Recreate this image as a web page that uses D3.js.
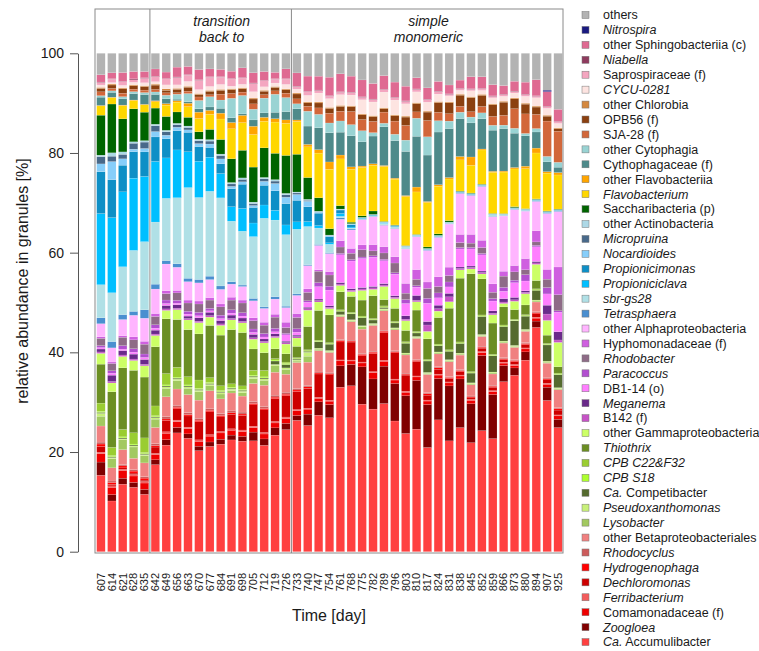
<!DOCTYPE html>
<html lang="en">
<head>
	<meta charset="UTF-8">
	<title>Granule community</title>
	<script src="https://d3js.org/d3.v7.min.js"></script>
	<style>
		body{
			margin: 0;
			background: #fff;
		}
		svg{
			display: block;
			font-family: "Liberation Sans", Arial, Helvetica, sans-serif;
		}
	</style>
</head>
<body>
	<div id="chart"></div>
	<script>
		var days = ["607","614","621","628","635","642","649","656","663","670","677","684","691","698","705","712","719","726",
			"733","740","747","754","761","768","775","782","789","796","803","810","817","824","831","838","845","852","859","866","873","880","894","907","925"];

		// phases: label lines, first and last day of the phase
		var phaseLabels = [["transition","back to"],["simple","monomeric"]];
		var phaseStart = ["642","733"];
		var phaseEnd = ["726","925"];

		// taxa, bottom of the stack first
		var taxa = ["Ca. Accumulibacter","Zoogloea","Comamonadaceae (f)","Ferribacterium","Dechloromonas","Hydrogenophaga","Rhodocyclus",
			"other Betaproteobacteriales","Lysobacter","Pseudoxanthomonas","Ca. Competibacter","CPB S18","CPB C22&F32","Thiothrix",
			"other Gammaproteobacteria","B142 (f)","Meganema","DB1-14 (o)","Paracoccus","Rhodobacter","Hyphomonadaceae (f)",
			"other Alphaproteobacteria","Tetrasphaera","sbr-gs28","Propioniciclava","Propionicimonas","Nocardioides","Micropruina",
			"other Actinobacteria","Saccharibacteria (p)","Flavobacterium","other Flavobacteriia","Cythophagaceae (f)","other Cytophagia",
			"SJA-28 (f)","OPB56 (f)","other Chlorobia","CYCU-0281","Saprospiraceae (f)","Niabella","other Sphingobacteriia (c)","Nitrospira","others"];
		var colors = ["#ff4040","#800000","#ee0000","#f25c5c","#cd0000","#ff0000","#cd5c5c",
			"#f08080","#a2c960","#c8f07a","#556b2f","#adff2f","#9acd32","#6b8e23",
			"#ccff66","#c653c6","#6a2a8a","#ff7fff","#b24fd0","#8e6b87","#cf5fe0",
			"#ffb5ff","#4a8fd0","#b0e0e6","#00bfff","#0e8fc6","#87cefa","#48698a",
			"#add8e6","#006400","#ffd700","#ffa500","#4e8a8a","#99d3d3",
			"#d2673a","#8b4010","#d4883f","#fde4e1","#f4a6c0","#8e3b5e","#df6a92","#1a1a80","#b3b3b3"];
		var italicTaxa = ["Zoogloea","Ferribacterium","Dechloromonas","Hydrogenophaga","Rhodocyclus","Lysobacter","Pseudoxanthomonas",
			"CPB S18","CPB C22&F32","Thiothrix","Meganema","Paracoccus","Rhodobacter","Tetrasphaera","sbr-gs28","Propioniciclava",
			"Propionicimonas","Nocardioides","Micropruina","Flavobacterium","CYCU-0281","Niabella","Nitrospira"];

		// relative abundance [%] per sample
		var accumulibacter = [15.7,10.4,13.7,13.1,11.7, 17.8,21.6,24.1,23.4,20.6,21.6,22.1,23.1,22.8,22.8,21.6,23.9,25.1,
			26.8,25.5,27.5,27.5,33.8,34.2,30.5,29.3,30.5,26.8,24.1,25.1,21.1,26.8,22.4,25.5,22.4,24.8,23.1,34.8,36.0,39.2,45.9,30.8,25.5];
		var zoogloea = [2.7,1.3,1.2,1.0,1.0, 1.0,1.1,1.1,0.9,0.9,0.9,1.0,1.0,1.0,1.8,1.3,1.5,1.3,
			1.0,2.3,2.7,2.7,4.4,4.4,7.7,6.2,7.7,7.7,7.7,10.0,8.7,8.4,11.1,10.0,8.0,15.4,9.0,3.3,1.5,1.7,1.3,2.7,1.7];
		var comamonadaceae = [1.7,1.5,1.5,1.3,1.3, 1.0,1.3,1.2,1.1,1.0,1.2,1.3,1.0,1.0,0.9,1.0,1.0,1.0,
			1.0,1.0,0.7,0.7,1.0,0.7,0.8,1.3,1.0,0.7,0.7,0.7,0.7,0.7,0.6,0.6,0.7,0.6,0.6,0.5,0.5,0.6,0.6,0.6,0.7];
		var ferribacterium = [0.3,0.3,0.3,0.3,0.3, 0.3,0.3,0.3,0.3,0.3,0.3,0.3,0.3,0.3,0.3,0.3,0.3,0.3,
			0.2,0.2,0.2,0.2,0.2,0.2,0.2,0.2,0.2,0.2,0.2,0.2,0.2,0.2,0.2,0.2,0.2,0.2,0.2,0.2,0.2,0.2,0.2,0.2,0.2];
		var dechloromonas = [1.2,0.3,0.3,0.3,0.3, 1.3,2.3,2.3,2.3,3.7,4.7,3.0,3.0,3.0,4.4,4.6,4.7,4.4,
			3.7,4.0,4.7,5.2,3.7,3.7,1.3,3.7,5.7,5.4,3.3,3.0,1.0,1.0,0.7,0.7,0.3,0.7,0.7,0.5,0.6,0.7,0.7,0.7,1.0];
		var hydrogenophaga = [0.5,0.4,0.4,0.4,0.4, 0.3,0.3,0.3,0.3,0.3,0.3,0.3,0.3,0.3,0.3,0.3,0.3,0.3,
			0.3,0.3,0.2,0.2,0.3,0.2,0.3,0.3,0.3,0.2,0.2,0.2,0.3,0.3,0.2,0.2,0.2,0.2,0.2,0.2,0.2,0.2,0.2,0.2,0.3];
		var rhodocyclus = [0.4,0.3,0.3,0.3,0.3, 0.4,0.5,0.4,0.4,0.4,0.3,0.4,0.4,0.4,0.4,0.4,0.4,0.4,
			0.3,0.3,0.2,0.2,0.2,0.2,0.2,0.2,0.2,0.2,0.2,0.2,0.2,0.2,0.2,0.2,0.2,0.2,0.2,0.2,0.2,0.2,0.2,0.2,0.2];
		var otherBeta = [3.3,2.7,3.0,2.3,2.8, 3.3,4.0,3.3,3.7,3.7,3.7,3.0,3.7,3.3,3.7,4.3,4.7,3.7,
			5.3,4.7,4.3,4.2,4.7,3.8,5.0,5.3,4.0,4.3,3.7,4.3,3.7,2.6,3.0,3.0,2.3,2.0,2.3,3.0,2.5,2.3,2.0,3.0,3.7];
		var lysobacter = [2.0,1.9,2.0,2.3,1.5, 1.7,1.7,1.7,1.3,1.7,1.0,1.0,0.5,0.7,1.0,1.0,1.3,1.0,
			0.3,1.2,0.3,0.2,0.2,0.2,0.5,0.2,0.2,0.2,0.2,0.2,0.2,0.2,0.2,0.2,0.2,0.2,0.2,0.2,0.2,0.2,0.2,0.2,0.2];
		var pseudoxanthomonas = [0.6,0.2,0.2,0.2,0.2, 0.3,0.3,0.3,0.3,0.3,0.3,0.3,0.3,0.3,0.3,0.3,0.3,0.3,
			0.2,0.8,0.2,0.2,0.2,0.2,0.2,0.2,0.2,0.2,0.2,0.2,0.2,0.2,0.2,0.2,0.2,0.2,0.2,0.2,0.2,0.2,0.2,0.2,0.2];
		var competibacter = [0.2,0.2,0.2,0.2,0.2, 0.2,0.2,0.2,0.2,0.2,0.2,0.2,0.2,0.2,0.2,0.2,0.7,0.7,
			0.2,0.2,1.3,1.3,0.7,1.2,1.7,0.7,0.3,1.0,2.0,0.7,2.3,1.3,1.7,2.0,2.0,3.7,3.3,3.0,5.0,2.7,2.0,3.3,2.7];
		var cpbS18 = [0.2,0.2,0.2,0.2,0.2, 0.2,0.2,0.2,0.2,0.2,0.2,0.2,0.2,0.2,0.2,0.2,0.2,0.2,
			0.1,0.1,0.1,0.1,0.1,0.1,0.1,0.1,0.1,0.1,0.1,0.1,0.1,0.1,0.1,0.1,0.1,0.1,0.1,0.1,0.1,0.1,0.1,0.1,0.1];
		var cpbC22 = [1.7,1.7,1.5,2.3,3.0, 2.0,2.3,2.0,1.7,1.7,1.0,1.0,0.7,0.7,1.0,1.3,0.3,0.3,
			0.2,0.2,0.2,0.2,0.2,0.2,0.2,0.2,0.2,0.2,0.2,0.2,0.2,0.2,0.2,0.2,0.2,0.2,0.2,0.2,0.2,0.2,0.2,0.2,0.2];
		var thiothrix = [8.0,11.4,12.5,12.7,12.4, 12.1,11.1,9.7,9.7,9.4,10.7,10.4,11.2,11.0,4.4,3.6,2.0,1.7,
			2.3,4.7,6.0,5.7,3.7,3.3,3.3,4.7,1.3,2.7,2.3,4.4,4.2,5.4,8.4,13.1,20.1,7.4,6.4,3.7,2.0,2.0,1.7,1.7,1.3];
		var otherGamma = [2.2,1.8,2.3,2.0,2.3, 2.3,1.7,2.0,2.0,2.3,1.7,2.0,2.0,2.0,2.0,2.0,2.3,2.0,
			1.7,3.3,1.7,1.3,1.3,1.0,2.0,1.3,2.7,2.0,2.0,1.7,1.5,1.3,1.3,1.7,1.0,1.0,1.7,0.7,1.7,2.3,3.3,3.0,5.0];
		var b142 = [0.3,0.3,0.3,0.3,0.3, 0.3,0.3,0.3,0.3,0.3,0.3,0.3,0.3,0.3,0.3,0.3,0.3,0.3,
			0.3,0.3,0.3,0.3,0.3,0.3,0.3,0.3,0.3,0.3,0.3,0.3,1.3,0.5,1.0,0.3,0.3,0.3,0.3,0.3,0.3,0.3,0.3,1.3,0.5];
		var meganema = [0.6,1.3,0.9,1.0,1.0, 0.8,0.7,0.7,0.5,0.7,0.7,0.7,0.7,0.7,0.7,0.5,0.5,0.3,
			0.3,0.3,0.3,0.3,0.3,0.3,0.3,0.3,0.3,0.3,0.7,1.0,0.7,0.7,0.7,0.3,0.3,0.3,0.5,0.7,0.5,0.3,0.3,1.8,1.7];
		var db114 = [0.3,0.4,0.3,0.4,0.4, 0.4,0.4,0.3,0.4,0.4,0.3,0.4,0.4,0.4,0.4,0.4,0.4,1.3,
			0.6,1.0,2.5,3.2,5.7,5.7,6.0,6.0,4.7,4.4,2.5,1.7,3.7,1.5,1.3,3.7,3.5,3.3,2.0,1.5,3.0,2.0,3.0,2.3,4.0];
		var paracoccus = [0.4,0.5,0.7,0.7,0.7, 0.7,0.7,0.6,0.6,0.7,0.5,0.7,0.7,0.7,0.7,0.7,0.7,0.3,
			0.7,0.3,0.8,0.8,0.3,0.3,0.3,0.3,0.3,0.3,0.8,0.3,1.0,1.0,1.0,0.3,0.3,0.3,0.5,0.8,0.5,1.3,0.3,1.3,0.3];
		var rhodobacter = [1.5,1.5,1.7,1.8,2.0, 1.7,1.3,1.5,1.7,1.7,1.7,1.7,2.0,2.0,1.7,1.7,2.3,1.2,
			2.3,1.7,2.3,2.3,1.3,1.3,1.5,1.0,1.3,2.0,1.3,1.3,2.0,1.3,1.3,1.0,0.9,1.2,1.3,2.3,1.7,1.0,0.7,1.7,3.3];
		var hyphomonadaceae = [0.3,0.3,0.3,0.6,0.6, 0.6,0.6,0.5,0.6,0.6,0.5,0.6,0.6,0.6,0.6,0.6,0.6,1.1,
			0.8,0.7,0.3,0.7,1.3,1.0,1.0,1.3,1.3,1.3,2.0,2.0,1.3,2.0,1.7,1.7,1.8,1.5,1.7,1.0,1.3,2.3,2.3,2.0,5.7];
		var otherAlpha = [2.7,2.9,3.3,4.4,4.7, 5.0,5.4,4.7,3.8,3.7,3.7,3.0,2.7,2.8,3.5,2.8,3.1,3.0,
			3.7,4.7,4.9,3.7,4.4,3.8,5.2,5.7,4.4,5.7,7.0,6.7,6.4,8.0,8.7,8.4,8.0,11.0,13.7,11.3,11.4,9.7,6.0,11.4,11.4];
		var tetrasphaera = [1.2,1.3,1.0,0.8,1.7, 1.0,0.7,0.7,0.7,0.7,0.7,0.7,0.5,0.3,0.5,0.3,0.5,0.3,
			0.3,0.2,0.2,0.2,0.3,0.2,0.1,0.1,0.1,0.1,0.1,0.1,0.1,0.1,0.1,0.1,0.1,0.1,0.1,0.1,0.1,0.1,0.1,0.1,0.1];
		var sbrgs28 = [6.8,10.0,9.7,12.4,13.9, 12.7,12.6,13.4,18.7,16.7,17.4,18.1,12.5,11.1,12.7,18.0,15.7,14.7,
			13.2,7.7,3.3,1.7,0.3,0.2,0.1,0.1,0.3,0.3,0.3,0.1,0.1,0.1,0.1,0.1,0.1,0.1,0.3,0.1,0.1,0.1,0.1,0.1,0.1];
		var propioniciclava = [14.6,15.4,15.2,14.7,13.3, 12.4,8.2,9.7,7.4,7.4,7.0,5.0,3.0,4.7,2.8,2.7,2.0,2.0,
			1.5,1.0,0.5,0.3,0.6,0.2,0.1,0.1,0.1,0.1,0,0,0,0,0,0,0,0,0,0,0,0,0,0,0];
		var propionicimonas = [8.6,7.8,5.4,5.4,5.0, 5.0,3.9,3.9,4.0,3.0,2.0,2.0,3.7,5.0,3.2,4.0,4.0,4.4,
			4.4,3.0,2.5,1.3,0.7,0.5,0.1,0.1,0.1,0.1,0.1,0.1,0.1,0.1,0.1,0.1,0.1,0.1,0.1,0.1,0.1,0.1,0.1,0.1,0.1];
		var nocardioides = [1.6,3.7,1.3,0.5,0.7, 1.1,0.7,0.7,0.5,0.6,0.7,1.0,0.5,0.5,0.4,0.8,1.5,1.3,
			1.2,1.1,0.2,0.1,0.1,0.1,0,0,0,0,0,0,0,0,0,0,0,0,0,0,0,0,0,0,0];
		var micropruina = [1.5,1.1,0.9,1.2,1.3, 1.2,0.7,0.5,0.5,0.6,0.6,0.7,0.5,0.5,0.4,0.5,0.5,0.5,
			0.3,0.2,0.1,0.1,0,0,0,0,0,0,0,0,0,0,0,0,0,0,0,0,0,0,0,0,0];
		var otherActino = [0.3,0.7,0.5,0.3,0.3, 0.3,0.3,0.3,0.3,0.3,0.3,0.3,0.3,0.3,0.3,0.3,0.3,0.3,
			0.2,0.2,0.1,0.1,0.1,0.1,0.1,0.1,0.1,0.1,0.1,0.1,0.1,0.1,0.1,0.1,0.1,0.1,0.1,0.1,0.1,0.1,0.1,0.1,0.1];
		var saccharibacteria = [8.2,10.0,6.7,6.7,5.8, 3.3,2.8,2.3,1.8,1.5,2.1,3.0,4.9,5.7,7.2,6.0,5.4,7.8,
			7.7,4.4,2.7,1.3,0.7,0.3,0.3,0.7,0.1,0.1,0.1,0.1,0.3,0.3,0.3,0.1,0.1,0.1,0.1,0.1,0.2,0.1,0.1,0.1,0.1];
		var flavobacterium = [1.9,1.3,2.7,1.7,1.5, 1.3,2.3,2.0,2.2,2.7,3.1,4.2,6.2,5.7,6.7,5.4,6.4,6.6,
			6.7,6.2,9.0,12.2,9.6,10.9,10.0,9.4,11.3,9.4,10.0,8.7,9.0,9.7,8.4,6.4,5.7,7.0,8.4,8.5,7.7,8.2,9.4,7.7,7.0];
		var otherFlavo = [0.1,0.1,0.1,0.1,0.1, 0.2,0.3,0.3,0.7,1.3,0.8,1.2,1.3,1.5,1.7,0.8,0.7,0.7,
			0.3,0.5,0.7,1.5,0.8,0.5,0.3,0.3,0.2,0.2,0.2,1.0,0.2,0.3,0.3,0.7,1.7,0.2,0.2,0.2,0.3,0.5,1.0,0.3,0.5];
		var cythophagaceae = [1.7,1.0,1.3,1.3,2.0, 1.3,1.0,0.3,0.3,0.7,0.7,1.0,1.0,0.3,1.3,0.9,1.3,1.7,
			2.3,3.7,4.4,6.0,4.7,6.4,5.0,5.7,8.0,7.7,9.0,10.4,9.4,10.7,9.9,7.8,7.0,6.2,8.4,8.7,7.0,6.2,3.3,2.0,1.1];
		var otherCyto = [0.3,0.3,0.4,0.4,0.4, 0.5,0.7,1.0,1.7,1.7,2.1,1.7,4.0,3.8,2.2,3.0,3.7,2.9,
			1.0,3.0,2.7,2.0,2.3,2.3,2.3,0.7,0.7,1.3,2.3,3.7,3.7,2.3,1.5,1.3,1.2,1.2,1.0,0.7,1.0,0.5,0.7,1.1,1.0];
		var sja28 = [0.8,0.5,0.7,0.5,0.5, 0.5,0.5,0.3,0.5,0.7,0.4,1.2,1.0,0.7,1.1,0.7,0.7,0.9,
			1.0,1.0,1.3,2.0,2.0,2.7,2.3,2.3,2.3,2.7,3.0,1.3,3.3,1.7,1.5,1.2,1.1,1.3,1.8,2.0,4.0,4.0,2.9,7.2,6.4];
		var opb56 = [0.7,0.7,0.9,0.7,0.7, 0.9,0.5,0.7,0.8,0.5,0.7,0.8,0.8,0.7,1.0,0.7,0.7,0.7,
			1.0,0.7,1.0,1.0,1.0,1.0,1.0,1.0,0.7,1.1,1.7,1.7,1.7,2.0,2.2,2.3,2.9,2.3,2.4,2.7,2.0,2.0,1.5,1.0,0.5];
		var otherChlorobia = [0.2,0.2,0.2,0.2,0.2, 0.2,0.3,0.2,0.2,0.2,0.2,0.2,0.2,0.2,0.2,0.2,0.2,0.2,
			0.2,0.2,0.2,0.2,0.2,0.2,0.2,0.2,0.2,0.2,0.2,0.2,0.2,0.2,0.2,0.2,0.2,0.2,0.2,0.2,0.2,0.2,0.2,0.2,0.2];
		var cycu0281 = [0.5,0.3,0.5,0.5,0.6, 0.5,0.8,0.7,1.0,0.8,0.8,1.0,0.5,0.7,1.3,0.7,0.7,0.9,
			0.8,1.3,1.8,1.8,2.2,2.2,2.9,2.8,3.2,3.0,2.5,2.2,1.8,1.5,1.2,0.8,1.2,0.8,1.2,1.0,1.0,1.4,1.7,1.4,0.9];
		var saprospiraceae = [0.5,0.7,0.7,0.5,0.9, 1.0,1.2,1.5,1.3,1.9,1.9,1.5,1.5,1.3,1.7,1.2,0.8,1.1,
			0.5,0.7,0.5,0.5,0.5,0.5,0.5,0.5,0.5,0.5,0.5,0.5,0.5,0.5,0.3,0.3,0.3,0.3,0.3,0.3,0.3,0.3,0.3,0.3,0.3];
		var niabella = [0.1,0.1,0.1,0.2,0.1, 0.1,0.1,0.1,0.1,0.1,0.1,0.1,0.1,0.1,0.1,0.1,0.1,0.1,
			0.1,0.1,0.1,0.1,0.1,0.1,0.1,0.1,0.1,0.1,0.1,0.1,0.1,0.1,0.1,0.1,0.1,0.1,0.1,0.1,0.1,0.1,0.1,0.1,0.1];
		var otherSphingo = [1.5,1.2,1.8,1.5,1.3, 1.5,1.3,2.0,1.7,2.1,1.6,1.5,1.5,2.0,2.1,1.8,1.3,2.0,
			2.7,3.1,2.8,3.8,3.7,3.3,3.5,3.2,2.8,3.1,3.0,2.3,2.3,2.0,1.8,1.7,2.5,2.4,2.3,1.8,2.0,2.5,3.3,3.0,2.5];
		var nitrospira = [0,0,0,0,0, 0,0,0,0,0,0,0,0,0,0,0,0,0,
			0,0,0,0,0,0,0,0,0,0,0,0,0,0,0,0,0,0,0,0,0,0,0,0.3,0];
		var others = [4.4,4.0,3.9,3.7,3.7, 3.2,3.8,2.8,2.7,3.3,3.2,3.3,3.7,3.0,4.0,3.7,3.9,3.2,
			4.0,4.6,4.6,4.9,4.2,4.7,5.5,6.2,4.6,5.9,6.7,5.0,7.0,5.7,6.4,5.5,4.8,4.8,6.4,6.6,5.7,5.9,5.4,7.5,11.5];

		var seriesValues = [accumulibacter,zoogloea,comamonadaceae,ferribacterium,dechloromonas,hydrogenophaga,rhodocyclus,
			otherBeta,lysobacter,pseudoxanthomonas,competibacter,cpbS18,cpbC22,thiothrix,otherGamma,b142,meganema,db114,
			paracoccus,rhodobacter,hyphomonadaceae,otherAlpha,tetrasphaera,sbrgs28,propioniciclava,propionicimonas,nocardioides,
			micropruina,otherActino,saccharibacteria,flavobacterium,otherFlavo,cythophagaceae,otherCyto,sja28,opb56,otherChlorobia,
			cycu0281,saprospiraceae,niabella,otherSphingo,nitrospira,others];

		var width = 759;
		var height = 651;
		var svg = d3.select('#chart').append('svg')
			.attr('width', width)
			.attr('height', height);

		// one row per sample, scaled so every sample adds up to 100 %
		var rows = days.map(function(day, i){
			var total = d3.sum(seriesValues, function(s){ return s[i]; });
			var row = {day: day};
			taxa.forEach(function(t, j){
				row[t] = seriesValues[j][i] * 100 / total;
			});
			return row;
		});
		var layers = d3.stack().keys(taxa)(rows);

		var xScale = d3.scaleBand().domain(days).range([95.5, 563.5]).paddingInner(0.22).paddingOuter(0.11);
		var yScale = d3.scaleLinear().domain([0, 100]).range([551.7, 53.3]);
		var color = d3.scaleOrdinal().domain(taxa).range(colors);

		//stacked bars
		svg.append('g')
			.selectAll('g')
			.data(layers)
			.enter()
			.append('g')
			.attr('fill', function(d){ return color(d.key); })
			.selectAll('rect')
			.data(function(d){ return d; })
			.enter()
			.append('rect')
			.attr('x', function(d){ return xScale(d.data.day); })
			.attr('y', function(d){ return yScale(d[1]); })
			.attr('width', xScale.bandwidth())
			.attr('height', function(d){ return Math.max(0, yScale(d[0]) - yScale(d[1])); })
			.attr('stroke', '#ffffff')
			.attr('stroke-width', 0.25)
			.attr('stroke-opacity', 0.5);

		//frame and phase dividers
		var boxTop = 9, boxBottom = 553, boxLeft = 95, boxRight = 563;
		svg.append('rect')
			.attr('x', boxLeft).attr('y', boxTop)
			.attr('width', boxRight - boxLeft).attr('height', boxBottom - boxTop)
			.attr('fill', 'none').attr('stroke', '#8a8a8a').attr('stroke-width', 1);

		var gap = xScale.step() * xScale.paddingInner() / 2;
		phaseStart.forEach(function(day, i){
			var xLine = xScale(day) - gap;
			svg.append('line')
				.attr('x1', xLine).attr('x2', xLine)
				.attr('y1', boxTop).attr('y2', boxBottom)
				.attr('stroke', '#8a8a8a').attr('stroke-width', 1);
			var xMid = (xLine + xScale(phaseEnd[i]) + xScale.bandwidth() + gap) / 2;
			phaseLabels[i].forEach(function(line, k){
				svg.append('text')
					.attr('x', xMid + 1)
					.attr('y', 26 + k * 16)
					.attr('text-anchor', 'middle')
					.style('font-size', '14px')
					.style('font-style', 'italic')
					.style('fill', '#1a1a1a')
					.text(line);
			});
		});

		//y axis
		var yAxis = d3.axisLeft(yScale).tickValues([0, 20, 40, 60, 80, 100]).tickSize(8).tickSizeOuter(0).tickPadding(6);
		var gy = svg.append('g')
			.attr('transform', 'translate(78,0)')
			.call(yAxis);
		gy.select('.domain').attr('stroke', '#555');
		gy.selectAll('.tick line').attr('stroke', '#555');
		gy.selectAll('text').style('font-size', '14px').style('fill', '#1a1a1a').style('font-family', 'inherit');

		//x axis labels, vertical
		var xAxis = d3.axisBottom(xScale).tickSize(0);
		var gx = svg.append('g')
			.attr('transform', 'translate(0,563)')
			.call(xAxis);
		gx.select('.domain').remove();
		gx.selectAll('text')
			.attr('transform', 'rotate(-90)')
			.attr('x', -10)
			.attr('y', 0)
			.attr('dy', '0.35em')
			.style('text-anchor', 'end')
			.style('font-size', '11px')
			.style('fill', '#1a1a1a')
			.style('font-family', 'inherit');

		//axis titles
		svg.append('text')
			.attr('transform', 'translate(28,281) rotate(-90)')
			.attr('text-anchor', 'middle')
			.style('font-size', '16px')
			.style('fill', '#1a1a1a')
			.text('relative abundance in granules [%]');
		svg.append('text')
			.attr('x', (boxLeft + boxRight) / 2)
			.attr('y', 621)
			.attr('text-anchor', 'middle')
			.style('font-size', '16px')
			.style('fill', '#1a1a1a')
			.text('Time [day]');

		//legend, top of stack first
		var legendTaxa = taxa.slice().reverse();
		var legend = svg.append('g')
			.selectAll('g')
			.data(legendTaxa)
			.enter()
			.append('g')
			.attr('transform', function(d, i){ return 'translate(582,' + (15 + i * 14.93) + ')'; });
		legend.append('rect')
			.attr('x', 0).attr('y', -3.5)
			.attr('width', 7).attr('height', 7)
			.attr('fill', function(d){ return color(d); })
			.attr('stroke', '#777').attr('stroke-width', 0.5);
		legend.each(function(d){
			var t = d3.select(this).append('text')
				.attr('x', 21)
				.attr('y', 0)
				.attr('dy', '0.35em')
				.style('font-size', '12.5px')
				.style('fill', '#1a1a1a');
			if(d.indexOf('Ca. ') === 0){
				t.append('tspan').style('font-style', 'italic').text('Ca.');
				t.append('tspan').text(' ' + d.slice(4));
			}else{
				t.text(d).style('font-style', italicTaxa.indexOf(d) >= 0 ? 'italic' : 'normal');
			}
		});
	</script>
</body>
</html>
